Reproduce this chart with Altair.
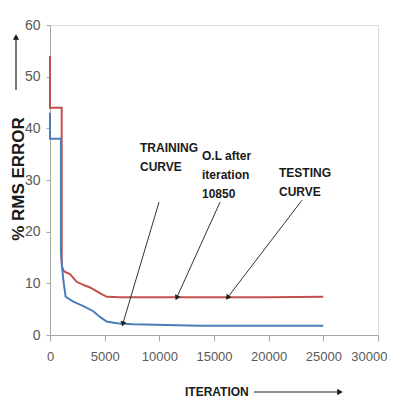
import altair as alt
import pandas as pd

# Data
red_x = [0, 0, 1070, 1070, 1100, 1280, 1830, 2440, 3050, 3660, 4570, 5180, 6400, 10000, 13700, 20000, 25000]
red_y = [54, 44, 44, 14.5, 13.2, 12.3, 11.8, 10.3, 9.7, 9.2, 8.1, 7.4, 7.3, 7.3, 7.3, 7.3, 7.4]
blue_x = [0, 0, 1000, 1000, 1070, 1220, 1430, 2130, 3050, 3960, 4570, 5180, 6100, 7600, 13700, 25000]
blue_y = [43, 38, 38, 16, 13.9, 10.6, 7.4, 6.45, 5.6, 4.6, 3.5, 2.6, 2.26, 2.06, 1.8, 1.8]

x_ticks = [0, 5000, 10000, 15000, 20000, 25000, 30000]
y_ticks = [0, 10, 20, 30, 40, 50, 60]

notes = ["TRAINING\nCURVE", "O.L after\niteration\n10850", "TESTING\nCURVE"]
note_x = [8232, 13902, 20945]
note_y = [35.4, 33.9, 30.6]

arrow_x1 = [9970, 15549, 23049]
arrow_y1 = [25.7, 25.7, 26.1]
arrow_x2 = [6677, 11616, 16280]
arrow_y2 = [2.3, 7.35, 7.35]
arrow_angle = [196.6, 204.4, 217.3]

RED = "#c0504d"
BLUE = "#4a7ebb"
FONT = "Liberation Sans"

rows = []
for i, (x, y) in enumerate(zip(red_x, red_y)):
    rows.append({"iter": x, "err": y, "series": "Testing", "i": i})
for i, (x, y) in enumerate(zip(blue_x, blue_y)):
    rows.append({"iter": x, "err": y, "series": "Training", "i": i})
df = pd.DataFrame(rows)

xscale = alt.Scale(domain=[0, 30000], nice=False)
yscale = alt.Scale(domain=[0, 60], nice=False)

last_x = "datum.value == 30000"
xaxis = alt.Axis(values=x_ticks, title=None, grid=False, tickSize=6, labelPadding=9, format="d",
                 domainColor="#a6a6a6", tickColor="#a6a6a6", labelColor="#595959",
                 labelFont=FONT, labelFontSize=13, labelFlush=False,
                 labelAlign={"condition": {"test": last_x, "value": "right"}, "value": "center"},
                 labelOffset={"condition": {"test": last_x, "value": 9}, "value": 0})
yaxis = alt.Axis(values=y_ticks, title=None, grid=False, tickSize=4, labelPadding=6, format="d",
                 domainColor="#a6a6a6", tickColor="#a6a6a6", labelColor="#595959",
                 labelFont=FONT, labelFontSize=14)

lines = alt.Chart(df).mark_line(strokeWidth=2).encode(
    x=alt.X("iter:Q", scale=xscale, axis=xaxis),
    y=alt.Y("err:Q", scale=yscale, axis=yaxis),
    color=alt.Color("series:N", scale=alt.Scale(domain=["Testing", "Training"], range=[RED, BLUE]), legend=None),
    order="i:Q",
)

adf = pd.DataFrame({"x1": arrow_x1, "y1": arrow_y1, "x2": arrow_x2, "y2": arrow_y2, "ang": arrow_angle})
arrows = alt.Chart(adf).mark_rule(color="#333333", strokeWidth=1).encode(
    x=alt.X("x1:Q", scale=xscale), y=alt.Y("y1:Q", scale=yscale),
    x2="x2:Q", y2="y2:Q",
)
heads = alt.Chart(adf).mark_point(shape="triangle", filled=True, color="#222222", size=35, opacity=1).encode(
    x=alt.X("x2:Q", scale=xscale), y=alt.Y("y2:Q", scale=yscale),
    angle=alt.Angle("ang:Q", scale=None),
)

ndf = pd.DataFrame({"t": notes, "x": note_x, "y": note_y})
texts = alt.Chart(ndf).mark_text(align="left", baseline="alphabetic", font=FONT, fontWeight="bold",
                                 fontSize=12, lineHeight=19, color="#1a1a1a", lineBreak="\n").encode(
    x=alt.X("x:Q", scale=xscale), y=alt.Y("y:Q", scale=yscale), text="t:N",
)

ytitle = alt.Chart(pd.DataFrame({"t": ["% RMS ERROR"]})).mark_text(
    angle=270, align="center", baseline="middle", font=FONT, fontWeight="bold",
    fontSize=17, color="#1a1a1a").encode(x=alt.value(-31), y=alt.value(154), text="t:N")
yarrow = alt.Chart(pd.DataFrame({"a": [0]})).mark_rule(color="#1a1a1a", strokeWidth=1.2).encode(
    x=alt.value(-34), y=alt.value(65), y2=alt.value(12))
yhead = alt.Chart(pd.DataFrame({"a": [0]})).mark_point(shape="triangle-up", filled=True, color="#1a1a1a",
                                                     size=40, opacity=1).encode(x=alt.value(-34), y=alt.value(12))

xtitle = alt.Chart(pd.DataFrame({"t": ["ITERATION"]})).mark_text(
    align="left", baseline="middle", font=FONT, fontWeight="bold", fontSize=12,
    color="#1a1a1a").encode(x=alt.value(135), y=alt.value(367), text="t:N")
xarrow = alt.Chart(pd.DataFrame({"a": [0]})).mark_rule(color="#1a1a1a", strokeWidth=1.2).encode(
    x=alt.value(204), x2=alt.value(288), y=alt.value(367))
xhead = alt.Chart(pd.DataFrame({"a": [0]})).mark_point(shape="triangle-right", filled=True, color="#1a1a1a",
                                                     size=40, opacity=1).encode(x=alt.value(290), y=alt.value(367))

chart = alt.layer(lines, arrows, heads, texts, ytitle, yarrow, yhead, xtitle, xarrow, xhead).properties(
    width=328, height=310,
    autosize=alt.AutoSizeParams(type="none"),
    padding={"left": 42, "top": 17, "right": 9, "bottom": 66},
).configure_view(stroke=None).configure(background="white")

chart.save("out.html", embed_options={"renderer": "svg", "actions": False})
